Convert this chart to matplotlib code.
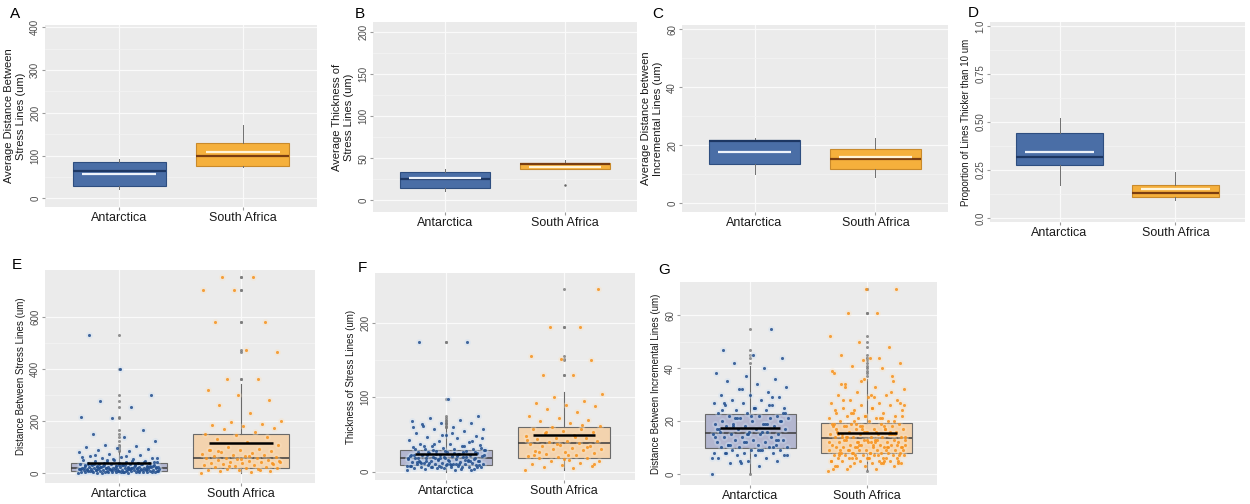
import numpy as np
import matplotlib
matplotlib.use("Agg")
import matplotlib.pyplot as plt

plt.rcParams['font.family'] = ['Liberation Sans', 'DejaVu Sans']

# ---- data ----
groups = ["Antarctica", "South Africa"]

# summary boxes, top row: (whislo, q1, median, q3, whishi, mean)
box_A = [(21, 28, 64, 84, 92, 58), (73, 76, 100, 130, 171, 108)]
box_B = [(11, 15, 25, 34, 37, 27), (37, 37, 43.5, 44, 48, 40)]
fliers_B = [[], [18]]
box_C = [(10, 13.5, 21.4, 21.7, 22.5, 17.7), (9.1, 12, 15.4, 18.6, 22.5, 15.8)]
box_D = [(0.17, 0.275, 0.32, 0.445, 0.52, 0.345), (0.095, 0.112, 0.133, 0.172, 0.24, 0.150)]

# summary boxes, bottom row
box_E = [(0, 9, 22, 39, 84, 38), (0, 22, 57, 151, 340, 117)]
box_F = [(0, 9, 19, 29, 59, 24), (3, 19, 39, 60, 107, 49)]
box_G = [(0.5, 9.7, 15.6, 22.6, 41, 17.5), (1.5, 7.8, 13.7, 19.4, 36, 15.5)]

# individual measurements (estimated from the jittered points)
E_ant = [2, 3, 3, 4, 4, 5, 5, 5, 6, 6, 6, 7, 7, 7, 8, 8, 8, 9, 9, 9, 10, 10, 10, 11, 11, 12, 12,
         13, 13, 14, 14, 15, 15, 15, 16, 16, 17, 17, 18, 18, 19, 19, 20, 20, 20, 21, 21, 22, 22,
         23, 23, 24, 24, 25, 25, 26, 26, 27, 28, 28, 29, 30, 30, 31, 32, 33, 34, 35, 35, 36, 37,
         38, 39, 40, 41, 42, 43, 44, 46, 48, 50, 52, 55, 58, 60, 63, 66, 70, 75, 80, 85, 90, 95,
         98, 100, 105, 110, 125, 140, 150, 165, 210, 215, 255, 275, 300, 400, 530,
         4, 6, 9, 12, 14, 17, 19, 22, 25, 27, 29, 32, 34, 37, 12, 15, 18, 21, 24, 8, 11, 16, 20,
         26, 31, 36, 45, 53, 62, 47, 3, 5, 7, 10, 13, 16, 18, 21, 23, 26, 28, 31, 33, 38, 42,
         6, 9, 11, 14, 17, 20, 24, 27, 30, 35, 40, 50, 57, 65, 72]
E_sa = [3, 5, 8, 10, 12, 14, 15, 18, 20, 22, 24, 25, 28, 30, 32, 34, 35, 38, 40, 42, 44, 45,
        48, 50, 52, 55, 57, 58, 60, 62, 65, 68, 70, 72, 75, 78, 80, 85, 88, 90, 95, 100, 110,
        120, 130, 140, 145, 150, 160, 170, 175, 180, 185, 190, 195, 200, 230, 260, 280, 300,
        320, 360, 360, 465, 470, 580, 580, 700, 700, 750, 750, 40, 55, 90, 12, 28, 46, 66, 84]
F_ant = [2, 3, 4, 4, 5, 5, 6, 6, 6, 7, 7, 7, 8, 8, 8, 9, 9, 9, 10, 10, 10, 11, 11, 12, 12, 12,
         13, 13, 14, 14, 15, 15, 16, 16, 17, 17, 18, 18, 19, 19, 20, 20, 21, 21, 22, 22, 23, 23,
         24, 25, 25, 26, 27, 28, 28, 29, 30, 30, 31, 32, 33, 34, 35, 36, 37, 38, 40, 41, 43, 45,
         47, 48, 50, 52, 55, 57, 58, 60, 62, 65, 66, 68, 70, 72, 75, 98, 175, 175,
         5, 8, 11, 14, 17, 20, 23, 26, 29, 32, 9, 12, 15, 18, 21, 24, 27, 6, 10, 13, 16, 19,
         22, 25, 35, 42, 50, 60, 4, 7, 9, 11, 13, 15, 17, 19, 21, 23, 26, 28, 31, 34, 38, 45,
         52, 64, 3, 6, 8, 10, 12, 14, 16, 18, 20, 24, 29]
F_sa = [3, 5, 6, 8, 9, 10, 12, 14, 15, 16, 18, 19, 20, 21, 22, 24, 25, 26, 28, 29, 30, 31,
        32, 34, 35, 36, 38, 39, 40, 41, 42, 44, 45, 46, 48, 50, 52, 54, 55, 57, 58, 60, 62,
        65, 68, 70, 72, 75, 80, 85, 88, 90, 92, 95, 100, 105, 130, 130, 150, 152, 155, 195,
        195, 245, 22, 27, 33, 37, 43, 47, 53, 11, 17, 23, 63]
G_ant = [0, 3, 4, 5, 5, 6, 6, 7, 7, 7, 8, 8, 8, 8, 9, 9, 9, 9, 10, 10, 10, 10, 11, 11, 11,
         12, 12, 12, 13, 13, 13, 14, 14, 14, 15, 15, 15, 15, 16, 16, 16, 17, 17, 17, 18, 18,
         18, 19, 19, 19, 20, 20, 20, 21, 21, 21, 22, 22, 22, 23, 23, 24, 24, 25, 25, 26, 26,
         27, 27, 28, 28, 29, 30, 30, 31, 32, 33, 34, 35, 36, 37, 38, 40, 42, 44, 45, 47, 55,
         4, 6, 9, 11, 13, 15, 17, 19, 21, 23, 25, 8, 10, 12, 14, 16, 18, 20, 22, 24, 26, 5,
         7, 9, 11, 13, 15, 17, 19, 21, 23, 25, 27, 29, 32]
G_sa = [1, 2, 2, 3, 3, 3, 4, 4, 4, 4, 5, 5, 5, 5, 5, 6, 6, 6, 6, 6, 6, 7, 7, 7, 7, 7, 7, 8,
        8, 8, 8, 8, 8, 9, 9, 9, 9, 9, 9, 10, 10, 10, 10, 10, 10, 11, 11, 11, 11, 11, 12, 12,
        12, 12, 12, 13, 13, 13, 13, 13, 14, 14, 14, 14, 14, 15, 15, 15, 15, 15, 16, 16, 16,
        16, 17, 17, 17, 17, 18, 18, 18, 18, 19, 19, 19, 20, 20, 20, 21, 21, 21, 22, 22, 22,
        23, 23, 24, 24, 25, 25, 26, 26, 27, 27, 28, 28, 29, 30, 30, 31, 32, 33, 34, 35, 36,
        38, 40, 41, 42, 44, 45, 48, 50, 52, 61, 61, 70, 70,
        3, 5, 7, 9, 11, 13, 15, 17, 19, 21, 23, 4, 6, 8, 10, 12, 14, 16, 18, 20, 22, 24, 6,
        8, 10, 12, 14, 16, 18, 5, 7, 9, 11, 13, 15, 17, 19, 26, 29, 33, 37, 43,
        2, 4, 6, 7, 8, 9, 10, 11, 12, 13, 14, 15, 16, 17, 18, 20, 22, 25, 28, 31, 35, 39, 44,
        3, 5, 6, 7, 9, 10, 11, 12, 14, 15, 16, 19, 21, 23, 27, 30, 34]

W, H = 1250, 504
fig = plt.figure(figsize=(W / 100, H / 100), dpi=100)

BG = "#EBEBEB"
top_fill = ["#4A6EA6", "#F5B03C"]
top_edge = ["#2E4E80", "#C98A2B"]
top_med = ["#1D3763", "#7A3D10"]
top_mean = ["#EEF3FA", "#FFF4D8"]
bot_fill = ["#B3B6CF", "#F3D3AE"]
pt_col = ["#24508F", "#F7931E"]
halo_col = ["#CADDF2", "#FCE2BF"]


def add_axes(l, t, r, b):
    return fig.add_axes([l / W, 1 - b / H, (r - l) / W, (b - t) / H])


def style(ax, ylim, ticks, ticklabels, ylabel, yfs):
    ax.set_facecolor(BG)
    for s in ax.spines.values():
        s.set_visible(False)
    ax.set_xlim(0.4, 2.6)
    ax.set_ylim(*ylim)
    ax.set_yticks(ticks)
    ax.set_yticklabels(ticklabels, rotation=90, va="center", fontsize=7, color="#4D4D4D")
    minor = [(a + b) / 2 for a, b in zip(ticks[:-1], ticks[1:])]
    ax.set_yticks(minor, minor=True)
    ax.set_xticks([1, 2])
    ax.set_xticklabels(groups, fontsize=9, color="#1A1A1A")
    ax.tick_params(axis="both", which="major", length=2, color="#9A9A9A", pad=1.5)
    ax.tick_params(axis="y", which="minor", length=0)
    ax.grid(True, which="major", color="#FAFAFA", lw=0.9, zorder=0)
    ax.grid(True, which="minor", axis="y", color="#F4F4F4", lw=0.5, zorder=0)
    ax.set_axisbelow(True)
    ax.set_ylabel(ylabel, fontsize=yfs, color="#1A1A1A", labelpad=3)


def stats_from(box, fliers):
    out = []
    for (lo, q1, med, q3, hi, mn), fl in zip(box, fliers):
        out.append(dict(whislo=lo, q1=q1, med=med, q3=q3, whishi=hi, fliers=fl, mean=mn))
    return out


def top_panel(ax, box, fliers=([], [])):
    st = stats_from(box, fliers)
    for i, s in enumerate(st):
        ax.bxp([s], positions=[i + 1], widths=0.75, patch_artist=True, showcaps=False,
               manage_ticks=False,
               boxprops=dict(facecolor=top_fill[i], edgecolor=top_edge[i], lw=0.8),
               whiskerprops=dict(color="#6F6F6F", lw=0.7),
               medianprops=dict(color=top_med[i], lw=1.6),
               flierprops=dict(marker="o", markersize=1.8, markerfacecolor="#666666",
                               markeredgecolor="none"),
               zorder=3)
        ax.hlines(s["mean"], i + 1 - 0.3, i + 1 + 0.3, color=top_mean[i], lw=1.6, zorder=4)


def bottom_panel(ax, box, data):
    for i, (b, d) in enumerate(zip(box, data)):
        d = np.asarray(d, float)
        lo, hi = b[0], b[4]
        fl = list(d[(d < lo) | (d > hi)])
        s = stats_from([b], [fl])[0]
        ax.bxp([s], positions=[i + 1], widths=0.78, patch_artist=True, showcaps=False,
               manage_ticks=False,
               boxprops=dict(facecolor=bot_fill[i], edgecolor="#6A6A6A", lw=0.8),
               whiskerprops=dict(color="#6A6A6A", lw=0.8),
               medianprops=dict(color="#3A3A3A", lw=1.1),
               flierprops=dict(marker="o", markersize=2.2, markerfacecolor="#7A7A7A",
                               markeredgecolor="none", alpha=0.8),
               zorder=2)
        n = len(d)
        jit = ((np.arange(n) * 0.6180339887) % 1 - 0.5) * 0.66
        x = i + 1 + jit
        ax.scatter(x, d, s=24, color=halo_col[i], alpha=0.35, lw=0, zorder=3)
        ax.scatter(x, d, s=5, color=pt_col[i], alpha=0.85, lw=0, zorder=4)
        ax.hlines(b[5], i + 1 - 0.26, i + 1 + 0.26, color="black", lw=1.8, zorder=5)


# ---- top row ----
axA = add_axes(45, 25, 317, 207)
style(axA, (-20, 405), [0, 100, 200, 300, 400], ["0", "100", "200", "300", "400"],
      "Average Distance Between\nStress Lines (um)", 8)
top_panel(axA, box_A)

axB = add_axes(373, 22, 637, 212)
style(axB, (-14, 212), [0, 50, 100, 150, 200], ["0", "50", "100", "150", "200"],
      "Average Thickness of\nStress Lines (um)", 8)
top_panel(axB, box_B, fliers_B)

axC = add_axes(682, 25, 948, 212)
style(axC, (-3, 61.5), [0, 20, 40, 60], ["0", "20", "40", "60"],
      "Average Distance between\nIncremental Lines (um)", 8)
top_panel(axC, box_C)

axD = add_axes(990, 22, 1245, 222)
style(axD, (-0.02, 1.02), [0, 0.25, 0.5, 0.75, 1.0], ["0.0", "0.25", "0.50", "0.75", "1.0"],
      "Proportion of Lines Thicker than 10 um", 7)
top_panel(axD, box_D)

# ---- bottom row ----
axE = add_axes(45, 270, 315, 483)
style(axE, (-37, 778), [0, 200, 400, 600], ["0", "200", "400", "600"],
      "Distance Between Stress Lines (um)", 7)
bottom_panel(axE, box_E, [E_ant, E_sa])

axF = add_axes(375, 273, 635, 480)
style(axF, (-11, 267), [0, 100, 200], ["0", "100", "200"],
      "Thickness of Stress Lines (um)", 7)
bottom_panel(axF, box_F, [F_ant, F_sa])

axG = add_axes(680, 282, 937, 485)
style(axG, (-4.2, 72.6), [0, 20, 40, 60], ["0", "20", "40", "60"],
      "Distance Between Incremental Lines (um)", 7)
bottom_panel(axG, box_G, [G_ant, G_sa])

for lab, x, y in [("A", 10, 14), ("B", 355, 14), ("C", 652, 14), ("D", 968, 13),
                  ("E", 12, 265), ("F", 358, 268), ("G", 658, 270)]:
    fig.text(x / W, 1 - y / H, lab, fontsize=11, va="center", ha="left")

fig.savefig("out.png", dpi=100)
